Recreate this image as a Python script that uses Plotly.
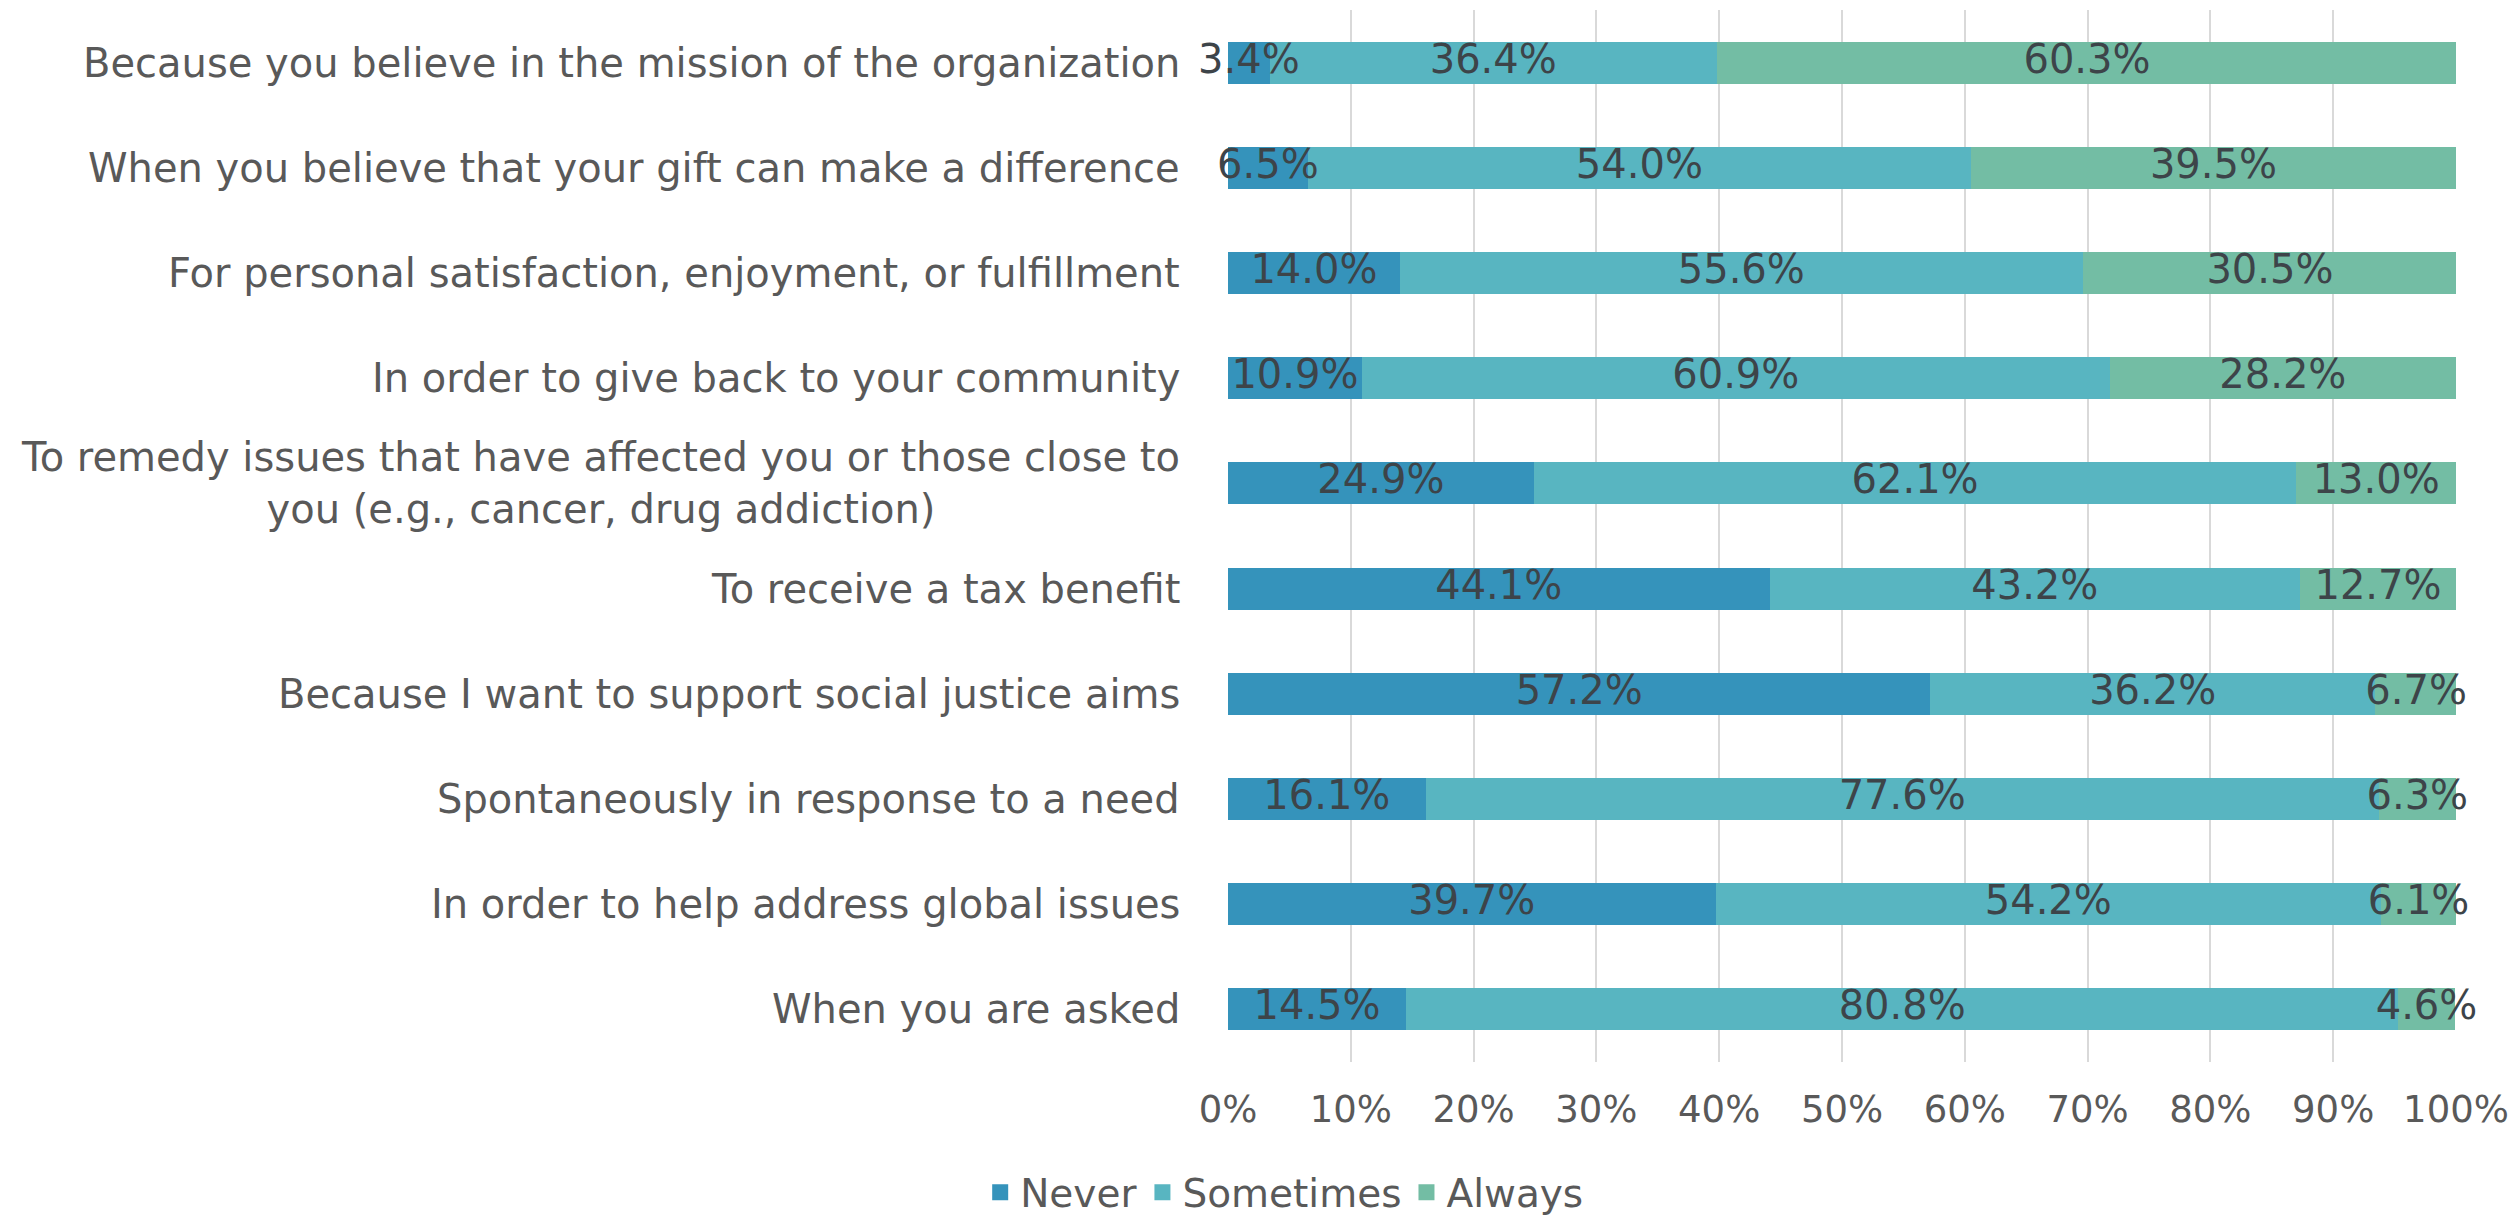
import plotly.graph_objects as go

# Survey: how often respondents give for each reason (share of respondents, %)
reasons = [
    "Because you believe in the mission of the organization",
    "When you believe that your gift can make a difference",
    "For personal satisfaction, enjoyment, or fulfillment",
    "In order to give back to your community",
    "To remedy issues that have affected you or those close to<br>you (e.g., cancer, drug addiction)",
    "To receive a tax benefit",
    "Because I want to support social justice aims",
    "Spontaneously in response to a need",
    "In order to help address global issues",
    "When you are asked",
]
never = [3.4, 6.5, 14.0, 10.9, 24.9, 44.1, 57.2, 16.1, 39.7, 14.5]
sometimes = [36.4, 54.0, 55.6, 60.9, 62.1, 43.2, 36.2, 77.6, 54.2, 80.8]
always = [60.3, 39.5, 30.5, 28.2, 13.0, 12.7, 6.7, 6.3, 6.1, 4.6]

series = [
    ("Never", never, "#3593bb"),
    ("Sometimes", sometimes, "#58b5c1"),
    ("Always", always, "#73bda4"),
]

tick_vals = [0, 10, 20, 30, 40, 50, 60, 70, 80, 90, 100]
tick_text = ["0%", "10%", "20%", "30%", "40%", "50%", "60%", "70%", "80%", "90%", "100%"]

FONT = "DejaVu Sans"
LABEL_COLOR = "#595959"
VALUE_COLOR = "#3d4449"

fig = go.Figure()

# Stacked segments
for name, vals, color in series:
    fig.add_trace(go.Bar(
        name=name,
        y=reasons,
        x=vals,
        orientation="h",
        marker=dict(color=color, line=dict(width=0)),
        showlegend=False,
        hoverinfo="skip",
    ))

# Value labels centred on each segment, drawn above all bars so that
# labels of thin segments can spill over their neighbours
start = [0.0] * len(reasons)
for name, vals, color in series:
    centres = [s + v / 2 for s, v in zip(start, vals)]
    fig.add_trace(go.Scatter(
        x=centres,
        y=reasons,
        mode="text",
        text=[f"{v:.1f}%" for v in vals],
        textposition="middle center",
        textfont=dict(family=FONT, size=40, color=VALUE_COLOR),
        showlegend=False,
        hoverinfo="skip",
        cliponaxis=False,
    ))
    start = [s + v for s, v in zip(start, vals)]

# Legend entries with square swatches
for name, vals, color in series:
    fig.add_trace(go.Scatter(
        x=[None], y=[None],
        mode="markers",
        name=name,
        marker=dict(symbol="square", size=16, color=color),
        showlegend=True,
    ))

# Category labels: right-aligned block, lines centred within it
for r in reasons:
    fig.add_annotation(
        x=0, xref="paper", xshift=-46,
        y=r, yref="y",
        text=r, showarrow=False,
        xanchor="right", yanchor="middle", align="center",
        font=dict(family=FONT, size=40, color=LABEL_COLOR),
    )

fig.update_layout(
    width=2519, height=1218,
    barmode="stack",
    bargap=0.6,
    plot_bgcolor="white",
    paper_bgcolor="white",
    margin=dict(l=1228, r=59, t=10, b=156),
    showlegend=True,
    legend=dict(
        orientation="h",
        traceorder="normal",
        xref="container", yref="container",
        x=0.51, y=0.021, xanchor="center", yanchor="middle",
        font=dict(family=FONT, size=39, color=LABEL_COLOR),
        itemsizing="trace",
        itemwidth=30,
    ),
    font=dict(family=FONT),
)
fig.update_xaxes(
    range=[0, 100],
    tickvals=tick_vals,
    ticktext=tick_text,
    tickfont=dict(family=FONT, size=37, color=LABEL_COLOR),
    showgrid=True, gridcolor="#d9d9d9", gridwidth=2,
    zeroline=False, showline=False,
    ticks="", ticklen=0,
    ticklabelstandoff=22,
)
fig.update_yaxes(
    autorange="reversed",
    showticklabels=False,
    showgrid=False, zeroline=False, showline=False,
    ticks="",
)

fig.write_html("out.html")
